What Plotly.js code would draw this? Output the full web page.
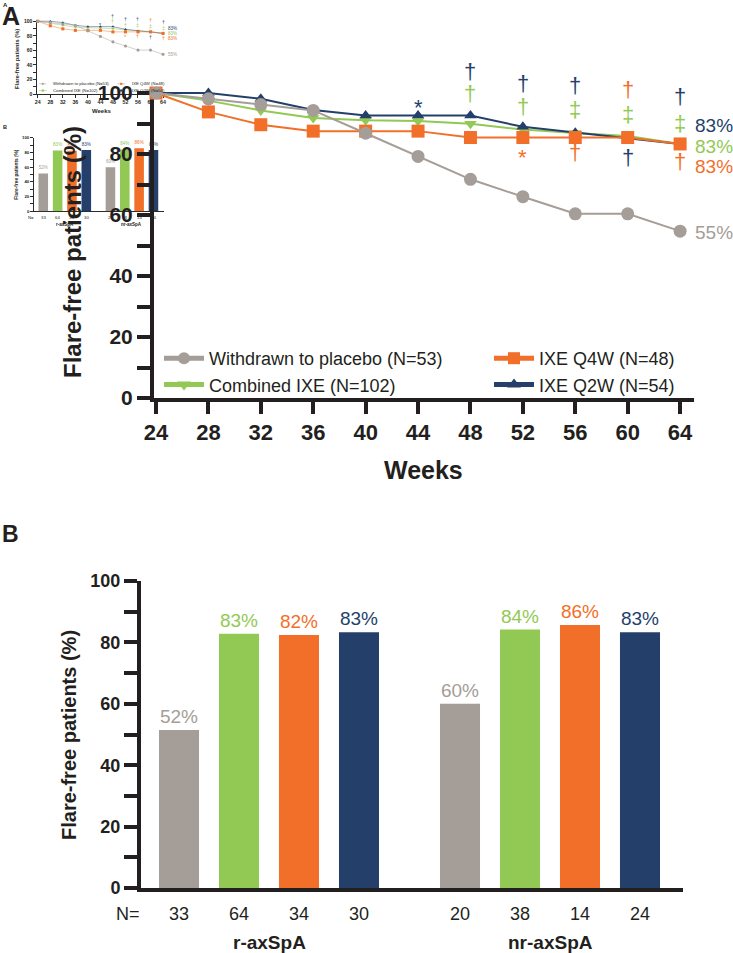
<!DOCTYPE html>
<html><head><meta charset="utf-8">
<script src="https://cdn.plot.ly/plotly-3.0.1.min.js"></script>
<style>html,body{margin:0;padding:0;background:#fff}#chart{width:733px;height:953px}</style>
</head><body><div id="chart"></div>
<script>
// ---------------- DATA ----------------
// Panel A: flare-free patients (%) by week
const weeks = [24, 28, 32, 36, 40, 44, 48, 52, 56, 60, 64];
const weekLabels = ['24','28','32','36','40','44','48','52','56','60','64'];
const placebo     = [100, 98.1, 96.2, 94.3, 86.8, 79.2, 71.7, 66.0, 60.4, 60.4, 54.7];
const combinedIXE = [100, 97.5, 94.3, 91.8, 91.1, 90.8, 89.9, 88.0, 86.9, 85.9, 83.3];
const ixeQ4W      = [100, 93.8, 89.6, 87.5, 87.5, 87.5, 85.4, 85.4, 85.4, 85.4, 83.3];
const ixeQ2W      = [100, 100, 98.1, 94.4, 92.6, 92.6, 92.6, 88.9, 87.0, 85.2, 83.3];
const seriesNames = ['Withdrawn to placebo (N=53)', 'Combined IXE (N=102)', 'IXE Q4W (N=48)', 'IXE Q2W (N=54)'];
const endLabels   = ['55%', '83%', '83%', '83%'];
const endLabelY   = [54.2, 82.6, 75.8, 89.5];
const yTickVals   = [0, 10, 20, 30, 40, 50, 60, 70, 80, 90, 100];
const yTickText   = ['0', '', '20', '', '40', '', '60', '', '80', '', '100'];

// significance symbols (series index: 0 placebo, 1 combined, 2 Q4W, 3 Q2W)
const sigSymbols = ['*', '†', '†', '†', '†', '*', '†', '‡', '†', '†', '‡', '†', '†', '‡', '†'];
const sigWeeks   = [44, 48, 48, 52, 52, 52, 56, 56, 56, 60, 60, 60, 64, 64, 64];
const sigY       = [97.2, 106.9, 99.9, 103.2, 95.5, 80.9, 102.6, 94.5, 80.4, 101, 92.8, 79, 98.8, 90.1, 77.6];
const sigSeries  = [3, 3, 1, 3, 1, 2, 3, 1, 2, 2, 1, 3, 3, 1, 2];

// Panel B: flare-free patients (%) by subgroup
const subgroups   = ['r-axSpA', 'nr-axSpA'];
const barPlacebo  = [51.5, 60.0];
const barCombined = [82.8, 84.2];
const barQ4W      = [82.4, 85.7];
const barQ2W      = [83.3, 83.3];
const nPlacebo  = [33, 20];
const nCombined = [64, 38];
const nQ4W      = [34, 14];
const nQ2W      = [30, 24];
const bTickVals = [0, 10, 20, 30, 40, 50, 60, 70, 80, 90, 100];
const bTickText = ['0', '', '20', '', '40', '', '60', '', '80', '', '100'];

// ---------------- STYLE ----------------
const W = 733, H = 953;
const FONT = 'Liberation Sans, Arial, Helvetica, sans-serif';
const INK = '#231F20';
const COLORS = ['#A59D97', '#92C954', '#F26F2A', '#243F6A'];
const SYMBOLS = ['circle', 'triangle-down', 'square', 'triangle-up'];
const MSIZE = [13, 11, 13, 11];
const LEGEND_OF = ['legend', 'legend', 'legend2', 'legend2'];
const DRAW_ORDER = [1, 3, 2, 0];
const lineSeries = [placebo, combinedIXE, ixeQ4W, ixeQ2W];
const barSeries = [barPlacebo, barCombined, barQ4W, barQ2W];
const nSeries = [nPlacebo, nCombined, nQ4W, nQ2W];
const BARGAP = 0.146, BARGROUPGAP = 0.333;

const traces = [], annotations = [], shapes = [];
const legendBase = {
  orientation: 'v', xanchor: 'left', y: 1 - 340 / H, yanchor: 'top',
  font: {family: FONT, size: 18, color: INK}, itemwidth: 40, itemsizing: 'constant',
  bgcolor: 'rgba(0,0,0,0)', traceorder: 'normal'
};
const layout = {
  width: W, height: H, margin: {l: 0, r: 0, t: 0, b: 0},
  paper_bgcolor: '#ffffff', plot_bgcolor: 'rgba(0,0,0,0)',
  font: {family: FONT, color: INK},
  barmode: 'group', bargap: BARGAP, bargroupgap: BARGROUPGAP,
  hovermode: false,
  legend: Object.assign({x: 159 / W}, legendBase),
  legend2: Object.assign({x: 489 / W}, legendBase)
};

function axKey(n, a) { return a + 'axis' + (n === 1 ? '' : n); }
function axRef(n, a) { return a + (n === 1 ? '' : n); }

function buildFigure(s, ox, oy, nA, nB, isMain) {
  const X = p => ox + s * p, Y = p => oy + s * p;
  const lw = 4 * s;
  const baseAxis = (fs, tl) => ({
    showline: true, linecolor: INK, linewidth: lw, ticks: 'outside', ticklen: tl * s,
    tickwidth: lw, tickcolor: INK, showgrid: false, zeroline: false, fixedrange: true,
    tickfont: {family: FONT, size: fs * s, color: INK, weight: 'bold'}, tickangle: 0,
    automargin: false, layer: 'below traces'
  });

  // ---------- Panel A ----------
  const aLine = X(152), aBase = Y(400);
  const aL = aLine + lw / 2, aR = X(694), aB = aBase - lw / 2, aT = Y(86.9);
  const ppw = 13.2 * s;
  const yTop = 102;
  const yPaperA = v => 1 - (aB - v * (aB - aT) / yTop) / H;   // value -> paper fraction via the y scale
  layout[axKey(nA, 'x')] = Object.assign(baseAxis(22, 12), {
    domain: [aL / W, aR / W], range: [24 - (aL - aLine) / ppw, 24 + (aR - aLine) / ppw],
    anchor: axRef(nA, 'y'), tickvals: weeks, ticktext: weekLabels
  });
  layout[axKey(nA, 'y')] = Object.assign(baseAxis(21, 13), {
    domain: [1 - aB / H, 1 - aT / H], range: [0, yTop],
    anchor: axRef(nA, 'x'), tickvals: yTickVals, ticktext: yTickText
  });
  DRAW_ORDER.forEach(i => {
    traces.push({
      type: 'scatter', mode: 'lines+markers', x: weeks, y: lineSeries[i],
      xaxis: axRef(nA, 'x'), yaxis: axRef(nA, 'y'), name: seriesNames[i],
      line: {color: COLORS[i], width: 2 * s},
      marker: {symbol: SYMBOLS[i], size: MSIZE[i] * s, color: COLORS[i], line: {width: 0}},
      cliponaxis: false, showlegend: isMain, legend: LEGEND_OF[i], legendrank: i, hoverinfo: 'skip'
    });
  });
  // significance symbols
  sigSymbols.forEach((sym, k) => {
    annotations.push({
      xref: axRef(nA, 'x'), yref: 'paper', x: sigWeeks[k], y: yPaperA(sigY[k]),
      text: sym, showarrow: false, xanchor: 'center', yanchor: 'middle',
      yshift: sym === '*' ? -6 * s : 0,
      font: {family: FONT, size: 22 * s, color: COLORS[sigSeries[k]]}
    });
  });
  // end labels
  endLabels.forEach((t, i) => {
    annotations.push({
      xref: axRef(nA, 'x'), yref: 'paper', x: weeks[weeks.length - 1], y: yPaperA(endLabelY[i]),
      xshift: 13 * s, text: t, showarrow: false, xanchor: 'left', yanchor: 'middle',
      font: {family: FONT, size: 19 * s, color: COLORS[i]}
    });
  });
  // axis titles
  annotations.push({xref: 'paper', yref: 'paper', x: X(423) / W, y: 1 - Y(470) / H, text: 'Weeks',
    showarrow: false, xanchor: 'center', yanchor: 'middle',
    font: {family: FONT, size: 25 * s, color: INK, weight: 'bold'}});
  annotations.push({xref: 'paper', yref: 'paper', x: X(72) / W, y: 1 - Y(252) / H, text: 'Flare-free patients (%)',
    showarrow: false, textangle: -90, xanchor: 'center', yanchor: 'middle',
    font: {family: FONT, size: 24 * s, color: INK, weight: 'bold'}});
  annotations.push({xref: 'paper', yref: 'paper', x: X(0) / W, y: Math.min(1, 1 - Y(0) / H), text: 'A',
    showarrow: false, xanchor: 'left', yanchor: 'top',
    font: {family: FONT, size: 25 * s, color: INK, weight: 'bold'}});

  // legend for the small copy (drawn by hand)
  if (!isMain) {
    const pos = [[161, 355], [161, 383], [489, 355], [489, 383]];
    pos.forEach((p, i) => {
      shapes.push({type: 'line', xref: 'paper', yref: 'paper', x0: X(p[0]) / W, x1: X(p[0] + 32) / W,
        y0: 1 - Y(p[1]) / H, y1: 1 - Y(p[1]) / H, line: {color: COLORS[i], width: 2 * s}});
      const r = 4.5 * s;
      shapes.push({type: i === 0 ? 'circle' : 'rect', xref: 'paper', yref: 'paper',
        x0: (X(p[0] + 16) - r) / W, x1: (X(p[0] + 16) + r) / W,
        y0: 1 - (Y(p[1]) - r) / H, y1: 1 - (Y(p[1]) + r) / H,
        fillcolor: COLORS[i], line: {width: 0}});
      annotations.push({xref: 'paper', yref: 'paper', x: X(p[0] + 52) / W, y: 1 - Y(p[1]) / H,
        text: seriesNames[i], showarrow: false, xanchor: 'left', yanchor: 'middle',
        font: {family: FONT, size: 18 * s, color: INK}});
    });
  }

  // ---------- Panel B ----------
  const bLine = X(139), bBase = Y(890);
  const bL = bLine + lw / 2, bR = X(683), bB = bBase - lw / 2, bT = Y(581);
  const ppc = 281 * s, c0 = X(269);
  layout[axKey(nB, 'x')] = Object.assign(baseAxis(18, 12), {
    domain: [bL / W, bR / W], range: [(bL - c0) / ppc, (bR - c0) / ppc],
    anchor: axRef(nB, 'y'), type: 'category', ticks: '', showticklabels: false
  });
  layout[axKey(nB, 'y')] = Object.assign(baseAxis(18, 13), {
    domain: [1 - bB / H, 1 - bT / H], range: [0, 100],
    anchor: axRef(nB, 'x'), tickvals: bTickVals, ticktext: bTickText, layer: 'above traces'
  });
  barSeries.forEach((vals, i) => {
    traces.push({
      type: 'bar', x: subgroups, y: vals, name: seriesNames[i], showlegend: false,
      xaxis: axRef(nB, 'x'), yaxis: axRef(nB, 'y'),
      marker: {color: COLORS[i], line: {width: 0}},
      texttemplate: '%{y:.0f}%', textposition: 'outside', cliponaxis: false, constraintext: 'none',
      textfont: {family: FONT, size: 19 * s, color: COLORS[i]}, hoverinfo: 'skip'
    });
  });
  const slot = (1 - BARGAP) / 4;
  annotations.push({xref: 'paper', yref: 'paper', x: X(128) / W, y: 1 - Y(914) / H, text: 'N=',
    showarrow: false, xanchor: 'center', yanchor: 'middle', font: {family: FONT, size: 18 * s, color: INK}});
  subgroups.forEach((g, gi) => {
    nSeries.forEach((arr, i) => {
      annotations.push({xref: axRef(nB, 'x'), yref: 'paper', x: gi + (i - 1.5) * slot, y: 1 - Y(914) / H,
        text: String(arr[gi]), showarrow: false, xanchor: 'center', yanchor: 'middle',
        font: {family: FONT, size: 18 * s, color: INK}});
    });
    annotations.push({xref: axRef(nB, 'x'), yref: 'paper', x: gi, y: 1 - Y(942) / H,
      text: g, showarrow: false, xanchor: 'center', yanchor: 'middle',
      font: {family: FONT, size: 19 * s, color: INK, weight: 'bold'}});
  });
  annotations.push({xref: 'paper', yref: 'paper', x: X(69) / W, y: 1 - Y(735) / H, text: 'Flare-free patients (%)',
    showarrow: false, textangle: -90, xanchor: 'center', yanchor: 'middle',
    font: {family: FONT, size: 20 * s, color: INK, weight: 'bold'}});
  annotations.push({xref: 'paper', yref: 'paper', x: X(0) / W, y: 1 - Y(534) / H, text: 'B',
    showarrow: false, xanchor: 'left', yanchor: 'middle',
    font: {family: FONT, size: 23 * s, color: INK, weight: 'bold'}});
}

// small copy of the whole figure in the top-left corner (drawn first, underneath)
buildFigure(0.239, 0.5, -1, 1, 2, false);
// full-size figure
buildFigure(1, 0, 0, 3, 4, true);

layout.annotations = annotations;
layout.shapes = shapes;
Plotly.newPlot('chart', traces, layout, {displayModeBar: false, staticPlot: true});
</script>
</body></html>
